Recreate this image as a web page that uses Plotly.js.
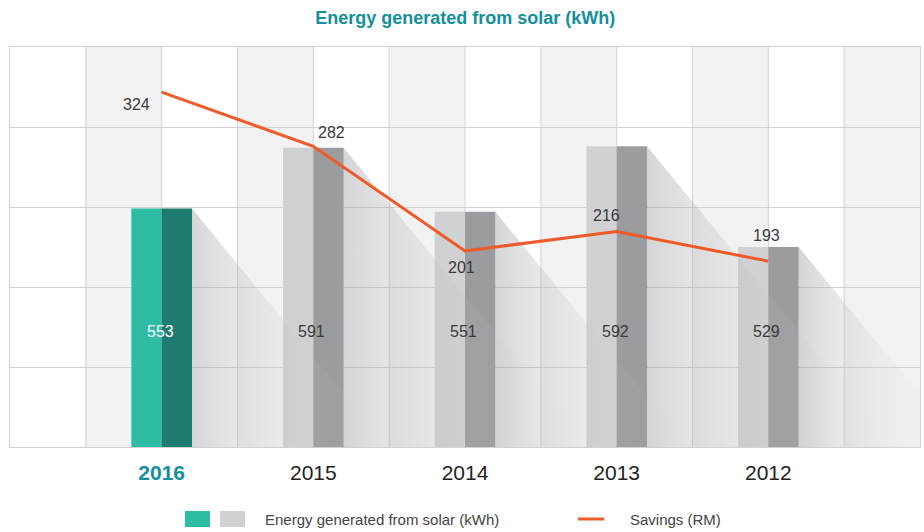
<!DOCTYPE html>
<html><head><meta charset="utf-8">
<script src="https://cdn.plot.ly/plotly-3.0.1.min.js"></script>
<style>html,body{margin:0;padding:0;background:#fff;}#chart{width:924px;height:532px;}</style>
</head><body><div id="chart"></div>
<script>
// ---- data ----
const years = ['2016', '2015', '2014', '2013', '2012'];
const energy = [553, 591, 551, 592, 529];          // Energy generated from solar (kWh)
const savings = [324, 282, 201, 216, 193];         // Savings (RM)
const energyName = 'Energy generated from solar (kWh)';
const savingsName = 'Savings (RM)';
const highlightIndex = 0;

// ---- style ----
const FONT = 'Liberation Sans, Arial, Helvetica, sans-serif';
const TEAL = '#2fbca5', TEAL_DARK = '#1f7b6f';
const GREY = '#d0d1d3', GREY_DARK = '#9a9c9f';
const ORANGE = '#f05a28';
const TITLE_COLOR = '#13909c';
const GRID = '#d2d2d2';

const W = 924, H = 532;
const M = {l: 10, r: 4, t: 47, b: 85};
const xRange = [-1, 5];
const yRange = [404, 654];
const y2Range = [49, 359];
const plotW = W - M.l - M.r, plotH = H - M.t - M.b;
const xpx = plotW / (xRange[1] - xRange[0]);
const ypx = plotH / (yRange[1] - yRange[0]);
const halfW = 0.2;
const shadowSlope = 1.22; // dy/dx in pixels

const idx = years.map((_, i) => i);
const isHi = i => i === highlightIndex;

const traces = [];

// shadows
energy.forEach((v, i) => {
  const x0 = i + halfW;
  const d = (v - yRange[0]) * ypx / (shadowSlope * xpx);
  traces.push({
    type: 'scatter', mode: 'none', fill: 'toself',
    x: [x0, x0, x0 + d, x0],
    y: [v, yRange[0], yRange[0], v],
    fillgradient: {type: 'horizontal',
      colorscale: [[0, 'rgba(150,152,156,0.40)'], [0.5, 'rgba(190,192,195,0.13)'], [1, 'rgba(220,220,220,0)']]},
    hoverinfo: 'skip', showlegend: false
  });
});

// bars, left (light) half and right (dark) half
traces.push({
  type: 'bar', x: idx, y: energy, width: halfW, offset: -halfW,
  marker: {color: idx.map(i => isHi(i) ? TEAL : GREY), line: {width: 0}},
  name: energyName, showlegend: false, hoverinfo: 'y'
});
traces.push({
  type: 'bar', x: idx, y: energy, width: halfW, offset: 0,
  marker: {color: idx.map(i => isHi(i) ? TEAL_DARK : GREY_DARK), line: {width: 0}},
  name: energyName, showlegend: false, hoverinfo: 'y'
});

// savings line
traces.push({
  type: 'scatter', mode: 'lines', x: idx, y: savings, yaxis: 'y2',
  line: {color: ORANGE, width: 3}, name: savingsName, showlegend: false
});

// ---- annotations ----
const annotations = [];
energy.forEach((v, i) => {
  annotations.push({
    x: i - 0.01, xref: 'x', y: 0.29, yref: 'paper', yanchor: 'middle', text: String(v), showarrow: false,
    font: {family: FONT, size: 16, color: isHi(i) ? '#ffffff' : '#3a3a3a'}
  });
});
const savShift = [[-25, -12], [18, 14], [-4, -17], [-10, 16], [-2, 26]];
savings.forEach((v, i) => {
  annotations.push({
    x: i, xref: 'x', y: v, yref: 'y2', yanchor: 'middle', text: String(v), showarrow: false,
    xshift: savShift[i][0], yshift: savShift[i][1],
    font: {family: FONT, size: 16, color: '#3a3a3a'}
  });
});
// legend texts
const px2x = p => (p - M.l) / plotW;
const px2y = p => (H - M.b - p) / plotH;
annotations.push({xref: 'paper', yref: 'paper', x: px2x(263), y: px2y(519), xanchor: 'left', yanchor: 'middle',
  text: energyName, showarrow: false, font: {family: FONT, size: 15, color: '#444'}});
annotations.push({xref: 'paper', yref: 'paper', x: px2x(628), y: px2y(519), xanchor: 'left', yanchor: 'middle',
  text: savingsName, showarrow: false, font: {family: FONT, size: 15, color: '#444'}});

// ---- shapes ----
const shapes = [];
for (let k = 0; k < (xRange[1] - xRange[0]) * 2; k++) {
  if (k % 2 === 1) {
    shapes.push({type: 'rect', layer: 'below', xref: 'x', yref: 'paper',
      x0: xRange[0] + k * 0.5, x1: xRange[0] + (k + 1) * 0.5, y0: 0, y1: 1,
      fillcolor: '#f2f2f2', line: {width: 0}});
  }
}
for (let x = xRange[0] + 0.5; x < xRange[1]; x += 0.5) {
  shapes.push({type: 'line', layer: 'below', xref: 'x', yref: 'paper', x0: x, x1: x, y0: 0, y1: 1,
    line: {color: GRID, width: 1}});
}
// legend swatches
shapes.push({type: 'rect', xref: 'paper', yref: 'paper', x0: px2x(185), x1: px2x(210), y0: px2y(527), y1: px2y(511),
  fillcolor: TEAL, line: {width: 0}});
shapes.push({type: 'rect', xref: 'paper', yref: 'paper', x0: px2x(220), x1: px2x(245), y0: px2y(527), y1: px2y(511),
  fillcolor: GREY, line: {width: 0}});
shapes.push({type: 'line', xref: 'paper', yref: 'paper', x0: px2x(578), x1: px2x(604), y0: px2y(519), y1: px2y(519),
  line: {color: ORANGE, width: 3}});

const tickText = years.map((y, i) => isHi(i) ? '<b><span style="color:' + TITLE_COLOR + '">' + y + '</span></b>' : y);

const layout = {
  width: W, height: H, margin: M,
  paper_bgcolor: '#ffffff', plot_bgcolor: '#ffffff',
  font: {family: FONT},
  title: {text: '<b>Energy generated from solar (kWh)</b>', x: 0.5035, xanchor: 'center',
    y: 1 - 18 / H, yanchor: 'middle', yref: 'container',
    font: {family: FONT, size: 18, color: TITLE_COLOR}},
  showlegend: false,
  barmode: 'overlay',
  xaxis: {range: xRange, tickvals: idx, ticktext: tickText, showgrid: false, zeroline: false,
    showline: true, mirror: true, linecolor: GRID, linewidth: 1, ticks: '', ticklabelstandoff: 7,
    tickfont: {family: FONT, size: 21, color: '#222'}, fixedrange: true},
  yaxis: {range: yRange, tick0: yRange[0], dtick: 50, tickmode: 'linear', showgrid: true, gridcolor: GRID,
    gridwidth: 1, showticklabels: false, zeroline: false, showline: true, mirror: true, linecolor: GRID,
    ticks: '', fixedrange: true},
  yaxis2: {range: y2Range, overlaying: 'y', visible: false, fixedrange: true},
  shapes: shapes,
  annotations: annotations
};

Plotly.newPlot('chart', traces, layout, {displayModeBar: false, staticPlot: true});
</script>
</body></html>
